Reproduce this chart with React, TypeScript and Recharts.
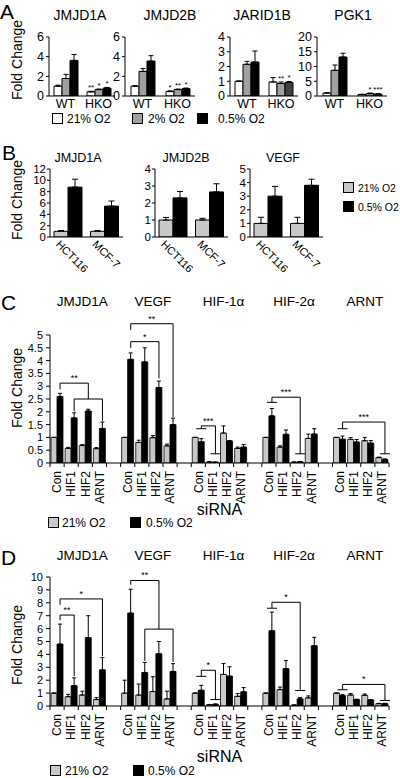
import React from 'react';
import { BarChart, Bar, XAxis, YAxis, ErrorBar, LabelList, ReferenceLine, Cell } from 'recharts';

const FONT = '"Liberation Sans", Arial, Helvetica, sans-serif';
const INK = '#000000';
const WHITE = '#ffffff';
const MID_GRAY = '#a0a0a0';
const LIGHT_GRAY = '#c8c8c8';
const DARK_GRAY = '#404040';

// ================= Panel A data =================
const aGroups = ['WT', 'HKO'];
const aLegendLabels = ['21% O2', '2% O2', '0.5% O2'];

const aJmjd1a21 = [1.0, 0.42];
const aJmjd1a21Err = [0.1, 0.06];
const aJmjd1a2 = [1.78, 0.65];
const aJmjd1a2Err = [0.42, 0.06];
const aJmjd1a05 = [3.62, 0.8];
const aJmjd1a05Err = [0.6, 0.07];
const aJmjd1aStars21 = ['', '**'];
const aJmjd1aStars2 = ['', '*'];
const aJmjd1aStars05 = ['', '*'];

const aJmjd2b21 = [1.0, 0.45];
const aJmjd2b21Err = [0.05, 0.08];
const aJmjd2b2 = [2.5, 0.65];
const aJmjd2b2Err = [0.3, 0.06];
const aJmjd2b05 = [3.55, 0.75];
const aJmjd2b05Err = [0.55, 0.06];
const aJmjd2bStars21 = ['', '*'];
const aJmjd2bStars2 = ['', '**'];
const aJmjd2bStars05 = ['', '*'];

const aJarid1b21 = [1.0, 0.95];
const aJarid1b21Err = [0.02, 0.3];
const aJarid1b2 = [2.15, 0.85];
const aJarid1b2Err = [0.2, 0.1];
const aJarid1b05 = [2.3, 0.92];
const aJarid1b05Err = [0.75, 0.06];
const aJarid1bStars21 = ['', ''];
const aJarid1bStars2 = ['', '**'];
const aJarid1bStars05 = ['', '*'];

const aPgk121 = [1.0, 0.5];
const aPgk121Err = [0.1, 0.1];
const aPgk12 = [8.7, 0.8];
const aPgk12Err = [1.8, 0.2];
const aPgk105 = [13.2, 0.6];
const aPgk105Err = [1.3, 0.2];
const aPgk1Stars21 = ['', ''];
const aPgk1Stars2 = ['', '*'];
const aPgk1Stars05 = ['', '***'];

const aTicks6 = [0, 2, 4, 6];
const aTicks4 = [0, 1, 2, 3, 4];
const aTicks20 = [0, 5, 10, 15, 20];

// ================= Panel B data =================
const bLines = ['HCT116', 'MCF-7'];
const bLegendLabels = ['21% O2', '0.5% O2'];

const bJmjd1aN = [1.0, 1.0];
const bJmjd1aNErr = [0.15, 0.15];
const bJmjd1aH = [8.8, 5.45];
const bJmjd1aHErr = [1.4, 0.9];

const bJmjd2bN = [1.0, 1.0];
const bJmjd2bNErr = [0.15, 0.1];
const bJmjd2bH = [2.3, 2.65];
const bJmjd2bHErr = [0.38, 0.48];

const bVegfN = [1.0, 1.0];
const bVegfNErr = [0.45, 0.45];
const bVegfH = [3.0, 3.8];
const bVegfHErr = [0.72, 0.45];

const bTicks12 = [0, 2, 4, 6, 8, 10, 12];
const bTicks4 = [0, 1, 2, 3, 4];
const bTicks5 = [0, 1, 2, 3, 4, 5];

// ================= Panels C & D data =================
const siLabels = ['Con', 'HIF1', 'HIF2', 'ARNT'];
const siGenes = ['JMJD1A', 'VEGF', 'HIF-1\u03b1', 'HIF-2\u03b1', 'ARNT'];
const siLegendLabels = ['21% O2', '0.5% O2'];

// Panel C
const cJmjd1aN = [1.0, 0.57, 0.68, 0.56];
const cJmjd1aNErr = [0.0, 0.04, 0.04, 0.04];
const cJmjd1aH = [2.6, 1.76, 2.03, 1.35];
const cJmjd1aHErr = [0.12, 0.2, 0.07, 0.25];

const cVegfN = [1.0, 0.8, 0.99, 0.67];
const cVegfNErr = [0.0, 0.09, 0.08, 0.07];
const cVegfH = [4.05, 3.95, 2.95, 1.5];
const cVegfHErr = [0.25, 0.55, 0.25, 0.25];

const cHif1aN = [1.0, 0.04, 1.17, 0.57];
const cHif1aNErr = [0.0, 0.01, 0.28, 0.05];
const cHif1aH = [0.83, 0.03, 0.86, 0.62];
const cHif1aHErr = [0.12, 0.01, 0.02, 0.1];

const cHif2aN = [1.0, 0.62, 0.03, 0.96];
const cHif2aNErr = [0.0, 0.05, 0.01, 0.17];
const cHif2aH = [1.84, 1.12, 0.05, 1.13];
const cHif2aHErr = [0.29, 0.17, 0.01, 0.21];

const cArntN = [1.0, 0.92, 0.87, 0.21];
const cArntNErr = [0.0, 0.07, 0.13, 0.02];
const cArntH = [0.93, 0.82, 0.78, 0.14];
const cArntHErr = [0.12, 0.1, 0.1, 0.02];

const cYTicks = [0, 0.5, 1, 1.5, 2, 2.5, 3, 3.5, 4, 4.5, 5];

// significance brackets, in slot units (gene * 5 + siRNA) and fold-change levels
const cBrackets = [
  { from: 0, to: 2, level: 3.12, dropL: 2.88, dropR: 2.5, label: '**', caps: false },
  { from: 1, to: 3, level: 2.5, dropL: 2.02, dropR: 1.65, label: '', caps: false },
  { from: 5, to: 8, level: 5.44, dropL: 5.2, dropR: 1.8, label: '**', caps: false },
  { from: 5, to: 7, level: 4.74, dropL: 4.5, dropR: 3.3, label: '*', caps: false },
  { from: 10, to: 11, level: 1.45, dropL: 1.34, dropR: 0.36, label: '***', caps: true },
  { from: 15, to: 17, level: 2.57, dropL: 2.37, dropR: 0.36, label: '***', caps: true },
  { from: 20, to: 23, level: 1.6, dropL: 1.34, dropR: 0.36, label: '***', caps: true },
];

// Panel D
const dJmjd1aN = [1.0, 0.72, 0.85, 0.5];
const dJmjd1aNErr = [0.0, 0.18, 0.3, 0.15];
const dJmjd1aH = [4.8, 1.58, 5.3, 2.8];
const dJmjd1aHErr = [1.55, 0.6, 1.7, 0.95];

const dVegfN = [1.0, 0.85, 1.12, 0.55];
const dVegfNErr = [1.0, 0.85, 1.15, 0.6];
const dVegfH = [7.2, 2.6, 4.05, 2.68];
const dVegfHErr = [1.85, 0.78, 0.95, 0.6];

const dHif1aN = [1.0, 0.1, 2.45, 0.75];
const dHif1aNErr = [0.0, 0.02, 0.85, 0.22];
const dHif1aH = [1.22, 0.13, 2.32, 1.1];
const dHif1aHErr = [0.38, 0.03, 0.72, 0.33];

const dHif2aN = [1.0, 1.27, 0.07, 0.63];
const dHif2aNErr = [0.0, 0.2, 0.01, 0.15];
const dHif2aH = [5.83, 2.9, 0.55, 4.67];
const dHif2aHErr = [1.45, 0.62, 0.1, 0.65];

const dArntN = [1.0, 0.85, 0.83, 0.18];
const dArntNErr = [0.0, 0.12, 0.1, 0.02];
const dArntH = [0.8, 0.5, 0.47, 0.18];
const dArntHErr = [0.08, 0.03, 0.02, 0.03];

const dYTicks = [0, 1, 2, 3, 4, 5, 6, 7, 8, 9, 10];

const dBrackets = [
  { from: 0, to: 3, level: 8.3, dropL: 7.85, dropR: 3.85, label: '*', caps: false },
  { from: 0, to: 1, level: 7.05, dropL: 6.65, dropR: 2.3, label: '**', caps: false },
  { from: 5, to: 7, level: 9.73, dropL: 9.4, dropR: 5.96, label: '**', caps: false },
  { from: 6, to: 8, level: 5.96, dropL: 3.5, dropR: 3.4, label: '', caps: false },
  { from: 10, to: 11, level: 2.77, dropL: 2.3, dropR: 0.5, label: '*', caps: true },
  { from: 15, to: 17, level: 8.04, dropL: 7.58, dropR: 1.2, label: '*', caps: true },
  { from: 20, to: 23, level: 1.67, dropL: 1.26, dropR: 0.43, label: '*', caps: true },
];

// ================= Layout =================
const A_PLOT_TOP = 37;
const A_PLOT_H = 59;
const B_PLOT_TOP = 169;
const B_PLOT_H = 68;

const SI_PLOT_LEFT = 50;
const SI_PLOT_W = 339;
const SI_SLOTS = 24;
const SLOT_PX = SI_PLOT_W / SI_SLOTS;
const SI_BAR = 6;
const BLACK_OFF = SI_BAR / 2 / SLOT_PX;
const CAP_HALF = 5 / SLOT_PX;

type APanel = {
  title: string; v21: number[]; e21: number[]; v2: number[]; e2: number[]; v05: number[]; e05: number[];
  s21: string[]; s2: string[]; s05: string[]; yMax: number; ticks: number[]; left: number; width: number;
  titleX: number; hkoDark?: boolean;
};

const aPanels: APanel[] = [
  { title: 'JMJD1A', v21: aJmjd1a21, e21: aJmjd1a21Err, v2: aJmjd1a2, e2: aJmjd1a2Err, v05: aJmjd1a05, e05: aJmjd1a05Err,
    s21: aJmjd1aStars21, s2: aJmjd1aStars2, s05: aJmjd1aStars05, yMax: 6, ticks: aTicks6, left: 49, width: 66, titleX: 80 },
  { title: 'JMJD2B', v21: aJmjd2b21, e21: aJmjd2b21Err, v2: aJmjd2b2, e2: aJmjd2b2Err, v05: aJmjd2b05, e05: aJmjd2b05Err,
    s21: aJmjd2bStars21, s2: aJmjd2bStars2, s05: aJmjd2bStars05, yMax: 6, ticks: aTicks6, left: 125, width: 70, titleX: 170 },
  { title: 'JARID1B', v21: aJarid1b21, e21: aJarid1b21Err, v2: aJarid1b2, e2: aJarid1b2Err, v05: aJarid1b05, e05: aJarid1b05Err,
    s21: aJarid1bStars21, s2: aJarid1bStars2, s05: aJarid1bStars05, yMax: 4, ticks: aTicks4, left: 230, width: 68, titleX: 262, hkoDark: true },
  { title: 'PGK1', v21: aPgk121, e21: aPgk121Err, v2: aPgk12, e2: aPgk12Err, v05: aPgk105, e05: aPgk105Err,
    s21: aPgk1Stars21, s2: aPgk1Stars2, s05: aPgk1Stars05, yMax: 20, ticks: aTicks20, left: 317, width: 70, titleX: 353 },
];

type BPanel = { title: string; n: number[]; ne: number[]; h: number[]; he: number[]; yMax: number; ticks: number[]; left: number; width: number; titleX: number };

const bPanels: BPanel[] = [
  { title: 'JMJD1A', n: bJmjd1aN, ne: bJmjd1aNErr, h: bJmjd1aH, he: bJmjd1aHErr, yMax: 12, ticks: bTicks12, left: 50, width: 73, titleX: 78 },
  { title: 'JMJD2B', n: bJmjd2bN, ne: bJmjd2bNErr, h: bJmjd2bH, he: bJmjd2bHErr, yMax: 4, ticks: bTicks4, left: 155, width: 73, titleX: 186 },
  { title: 'VEGF', n: bVegfN, ne: bVegfNErr, h: bVegfH, he: bVegfHErr, yMax: 5, ticks: bTicks5, left: 250, width: 73, titleX: 283 },
];

type SiSeries = { n: number[]; ne: number[]; h: number[]; he: number[] };
type Bracket = { from: number; to: number; level: number; dropL: number; dropR: number; label: string; caps: boolean };
type SiCfg = { top: number; topH: number; plotH: number; bottomH: number; labelOffset: number; titleGap: number; yMax: number; yTicks: number[]; series: SiSeries[]; brackets: Bracket[] };

const cCfg: SiCfg = {
  top: 285, topH: 50, plotH: 128, bottomH: 58, labelOffset: 6, titleGap: 29, yMax: 5, yTicks: cYTicks,
  series: [
    { n: cJmjd1aN, ne: cJmjd1aNErr, h: cJmjd1aH, he: cJmjd1aHErr },
    { n: cVegfN, ne: cVegfNErr, h: cVegfH, he: cVegfHErr },
    { n: cHif1aN, ne: cHif1aNErr, h: cHif1aH, he: cHif1aHErr },
    { n: cHif2aN, ne: cHif2aNErr, h: cHif2aH, he: cHif2aHErr },
    { n: cArntN, ne: cArntNErr, h: cArntH, he: cArntHErr },
  ],
  brackets: cBrackets,
};

const dCfg: SiCfg = {
  top: 540, topH: 37, plotH: 129, bottomH: 62, labelOffset: 6, titleGap: 17, yMax: 10, yTicks: dYTicks,
  series: [
    { n: dJmjd1aN, ne: dJmjd1aNErr, h: dJmjd1aH, he: dJmjd1aHErr },
    { n: dVegfN, ne: dVegfNErr, h: dVegfH, he: dVegfHErr },
    { n: dHif1aN, ne: dHif1aNErr, h: dHif1aH, he: dHif1aHErr },
    { n: dHif2aN, ne: dHif2aNErr, h: dHif2aH, he: dHif2aHErr },
    { n: dArntN, ne: dArntNErr, h: dArntH, he: dArntHErr },
  ],
  brackets: dBrackets,
};

const axisTick = (size: number) => ({ fontSize: size, fill: INK, fontFamily: FONT });

function AChart({ p }: { p: APanel }) {
  const data = aGroups.map((g, i) => ({
    g,
    v21: p.v21[i], e21: [0, p.e21[i]], s21: p.s21[i],
    v2: p.v2[i], e2: [0, p.e2[i]], s2: p.s2[i],
    v05: p.v05[i], e05: [0, p.e05[i]], s05: p.s05[i],
  }));
  const yw = 28;
  const mt = 6;
  return (
    <div style={{ position: 'absolute', left: p.left - yw, top: A_PLOT_TOP - mt }}>
      <BarChart width={yw + p.width + 2} height={mt + A_PLOT_H + 20} data={data}
        margin={{ top: mt, right: 2, bottom: 0, left: 0 }} barGap={0}>
        <XAxis dataKey="g" height={20} tickSize={0} tickMargin={3} interval={0}
          axisLine={{ stroke: INK }} tickLine={false} tick={axisTick(12.5)} />
        <YAxis width={yw} domain={[0, p.yMax]} ticks={p.ticks} allowDataOverflow interval={0}
          tickSize={3} tickMargin={2} axisLine={{ stroke: INK }} tickLine={{ stroke: INK }} tick={axisTick(12.5)} />
        <Bar dataKey="v21" fill={WHITE} stroke={INK} strokeWidth={1} barSize={8} isAnimationActive={false}>
          <ErrorBar dataKey="e21" width={2.5} stroke={INK} strokeWidth={1} />
          <LabelList dataKey="s21" position="top" offset={2} fontSize={8} fill={INK} fontFamily={FONT} />
        </Bar>
        <Bar dataKey="v2" fill={MID_GRAY} stroke={INK} strokeWidth={1} barSize={8} isAnimationActive={false}>
          <ErrorBar dataKey="e2" width={2.5} stroke={INK} strokeWidth={1} />
          <LabelList dataKey="s2" position="top" offset={2} fontSize={8} fill={INK} fontFamily={FONT} />
        </Bar>
        <Bar dataKey="v05" fill={INK} stroke={INK} strokeWidth={1} barSize={8} isAnimationActive={false}>
          {data.map((d, i) => (
            <Cell key={d.g} fill={p.hkoDark && i === 1 ? DARK_GRAY : INK} />
          ))}
          <ErrorBar dataKey="e05" width={2.5} stroke={INK} strokeWidth={1} />
          <LabelList dataKey="s05" position="top" offset={2} fontSize={8} fill={INK} fontFamily={FONT} />
        </Bar>
      </BarChart>
    </div>
  );
}

function renderBTick(props: any) {
  const { x, y, payload } = props;
  return (
    <text transform={`translate(${x - 13},${y + 8}) rotate(45)`} fontSize={11} fontFamily={FONT} fill={INK} textAnchor="start">
      {payload.value}
    </text>
  );
}

function BChart({ p }: { p: BPanel }) {
  const data = bLines.map((c, i) => ({ c, n: p.n[i], ne: [0, p.ne[i]], h: p.h[i], he: [0, p.he[i]] }));
  const yw = 28;
  const mt = 6;
  return (
    <div style={{ position: 'absolute', left: p.left - yw, top: B_PLOT_TOP - mt }}>
      <BarChart width={yw + p.width + 2} height={mt + B_PLOT_H + 40} data={data}
        margin={{ top: mt, right: 2, bottom: 0, left: 0 }} barGap={0}>
        <XAxis dataKey="c" height={40} tickSize={0} tickMargin={0} interval={0}
          axisLine={{ stroke: INK }} tickLine={false} tick={renderBTick} />
        <YAxis width={yw} domain={[0, p.yMax]} ticks={p.ticks} allowDataOverflow interval={0}
          tickSize={3} tickMargin={1} axisLine={{ stroke: INK }} tickLine={{ stroke: INK }} tick={axisTick(11.5)} />
        <Bar dataKey="n" fill={LIGHT_GRAY} stroke={INK} strokeWidth={1} barSize={14} isAnimationActive={false}>
          <ErrorBar dataKey="ne" width={3} stroke={INK} strokeWidth={1} />
        </Bar>
        <Bar dataKey="h" fill={INK} stroke={INK} strokeWidth={1} barSize={14} isAnimationActive={false}>
          <ErrorBar dataKey="he" width={3} stroke={INK} strokeWidth={1} />
        </Bar>
      </BarChart>
    </div>
  );
}

const boundaryTicks = Array.from({ length: SI_SLOTS + 1 }, (_, i) => i - 0.5);
const titleTicks = siGenes.map((_, g) => g * 5 + 1.5);

function renderSiTick(props: any) {
  const { x, y, payload } = props;
  const slot = Math.round(payload.value + 0.5);
  const k = slot % 5;
  if (slot >= SI_SLOTS || k === 4) return <g />;
  return (
    <text transform={`translate(${x + SLOT_PX / 2},${y}) rotate(-90)`} textAnchor="end" dy="0.35em"
      fontSize={12} fontFamily={FONT} fill={INK}>
      {siLabels[k]}
    </text>
  );
}

function renderTitleTick(props: any) {
  const { x, y, payload } = props;
  const g = Math.round((payload.value - 1.5) / 5);
  return (
    <text x={x + 4} y={y} textAnchor="middle" fontSize={13.5} fontFamily={FONT} fill={INK}>
      {siGenes[g]}
    </text>
  );
}

function SiChart({ cfg }: { cfg: SiCfg }) {
  const rows: any[] = [];
  cfg.series.forEach((s, g) => {
    siLabels.forEach((_, k) => {
      rows.push({ x: g * 5 + k, n: s.n[k], ne: [0, s.ne[k]], h: s.h[k], he: [0, s.he[k]] });
    });
  });
  const segs: React.ReactNode[] = [];
  const seg = (key: string, x1: number, y1: number, x2: number, y2: number, label?: string) => (
    <ReferenceLine key={key} xAxisId="b" segment={[{ x: x1, y: y1 }, { x: x2, y: y2 }]} stroke={INK} strokeWidth={1}
      ifOverflow="visible"
      label={label ? { value: label, position: 'top', offset: 2, fontSize: 9, fill: INK, fontFamily: FONT } : undefined} />
  );
  cfg.brackets.forEach((b, i) => {
    const xl = b.from + BLACK_OFF;
    const xr = b.to + BLACK_OFF;
    segs.push(seg(`h${i}`, xl, b.level, xr, b.level, b.label));
    segs.push(seg(`l${i}`, xl, b.level, xl, b.dropL));
    segs.push(seg(`r${i}`, xr, b.level, xr, b.dropR));
    if (b.caps) {
      segs.push(seg(`cl${i}`, xl - CAP_HALF, b.dropL, xl + CAP_HALF, b.dropL));
      segs.push(seg(`cr${i}`, xr - CAP_HALF, b.dropR, xr + CAP_HALF, b.dropR));
    }
  });
  const yw = SI_PLOT_LEFT;
  return (
    <div style={{ position: 'absolute', left: 0, top: cfg.top }}>
      <BarChart width={400} height={cfg.topH + cfg.plotH + cfg.bottomH} data={rows}
        margin={{ top: 0, right: 400 - SI_PLOT_LEFT - SI_PLOT_W, bottom: 0, left: 0 }} barGap={0}>
        <XAxis xAxisId="t" orientation="top" dataKey="x" type="number" domain={[-0.5, SI_SLOTS - 0.5]} allowDataOverflow
          ticks={titleTicks} interval={0} height={cfg.topH} axisLine={false} tickLine={false} tickSize={0}
          tickMargin={cfg.titleGap} tick={renderTitleTick} />
        <XAxis xAxisId="b" dataKey="x" type="number" domain={[-0.5, SI_SLOTS - 0.5]} allowDataOverflow
          ticks={boundaryTicks} tickCount={SI_SLOTS + 1} interval={0} height={cfg.bottomH}
          tickSize={4} tickMargin={4} axisLine={{ stroke: INK }} tickLine={{ stroke: INK }} tick={renderSiTick}
          label={{ value: 'siRNA', position: 'insideBottom', offset: cfg.labelOffset, fontSize: 16, fill: INK, fontFamily: FONT }} />
        <YAxis width={yw} domain={[0, cfg.yMax]} ticks={cfg.yTicks} allowDataOverflow interval={0}
          tickSize={4} tickMargin={3} axisLine={{ stroke: INK }} tickLine={{ stroke: INK }} tick={axisTick(11)} />
        <Bar xAxisId="b" dataKey="n" fill={LIGHT_GRAY} stroke={INK} strokeWidth={0.8} barSize={SI_BAR} isAnimationActive={false}>
          <ErrorBar dataKey="ne" width={2} stroke={INK} strokeWidth={1} />
        </Bar>
        <Bar xAxisId="b" dataKey="h" fill={INK} stroke={INK} strokeWidth={0.8} barSize={SI_BAR} isAnimationActive={false}>
          <ErrorBar dataKey="he" width={2} stroke={INK} strokeWidth={1} />
        </Bar>
        {segs}
      </BarChart>
    </div>
  );
}

function LegendBox({ x, y, fill, label, tx, size = 12 }: { x: number; y: number; fill: string; label: string; tx: number; size?: number }) {
  return (
    <g>
      <rect x={x + 0.5} y={y + 0.5} width={10} height={10} fill={fill} stroke={INK} strokeWidth={1} />
      <text x={tx} y={y + 9.5} fontSize={size} fontFamily={FONT} fill={INK}>{label}</text>
    </g>
  );
}

function Overlay() {
  const big = { fontSize: 21, fontFamily: FONT, fill: INK };
  const yl = { fontSize: 14, fontFamily: FONT, fill: INK, textAnchor: 'middle' as const };
  return (
    <svg width={400} height={778} style={{ position: 'absolute', left: 0, top: 0, pointerEvents: 'none' }}>
      <text x={0} y={19} {...big}>A</text>
      <text x={2} y={160} {...big}>B</text>
      <text x={1} y={310} {...big}>C</text>
      <text x={1} y={565} {...big}>D</text>

      <text transform="translate(22,60) rotate(-90)" {...yl}>Fold Change</text>
      <text transform="translate(22,200) rotate(-90)" {...yl}>Fold Change</text>
      <text transform="translate(22,388) rotate(-90)" {...yl}>Fold Change</text>
      <text transform="translate(22,645) rotate(-90)" {...yl}>Fold Change</text>

      {aPanels.map((p) => (
        <text key={p.title} x={p.titleX} y={20} textAnchor="middle" fontSize={14} fontFamily={FONT} fill={INK}>{p.title}</text>
      ))}
      {bPanels.map((p) => (
        <text key={p.title} x={p.titleX} y={162} textAnchor="middle" fontSize={12.5} fontFamily={FONT} fill={INK}>{p.title}</text>
      ))}

      <LegendBox x={52} y={113} fill={WHITE} label={aLegendLabels[0]} tx={67} />
      <LegendBox x={132} y={113} fill={MID_GRAY} label={aLegendLabels[1]} tx={148} />
      <LegendBox x={197} y={113} fill={INK} label={aLegendLabels[2]} tx={218} />

      <LegendBox x={343} y={182} fill={LIGHT_GRAY} label={bLegendLabels[0]} tx={358} size={10.5} />
      <LegendBox x={343} y={201} fill={INK} label={bLegendLabels[1]} tx={358} size={10.5} />

      <LegendBox x={48} y={517} fill={LIGHT_GRAY} label={siLegendLabels[0]} tx={62} />
      <LegendBox x={130} y={517} fill={INK} label={siLegendLabels[1]} tx={146} />

      <LegendBox x={50} y={765} fill={LIGHT_GRAY} label={siLegendLabels[0]} tx={65} />
      <LegendBox x={133} y={765} fill={INK} label={siLegendLabels[1]} tx={148} />
    </svg>
  );
}

export default function App() {
  return (
    <div style={{ position: 'absolute', left: 0, top: 0, width: 400, height: 778, background: '#ffffff', fontFamily: FONT, overflow: 'hidden' }}>
      {aPanels.map((p) => <AChart key={p.title} p={p} />)}
      {bPanels.map((p) => <BChart key={p.title} p={p} />)}
      <SiChart cfg={cCfg} />
      <SiChart cfg={dCfg} />
      <Overlay />
    </div>
  );
}
